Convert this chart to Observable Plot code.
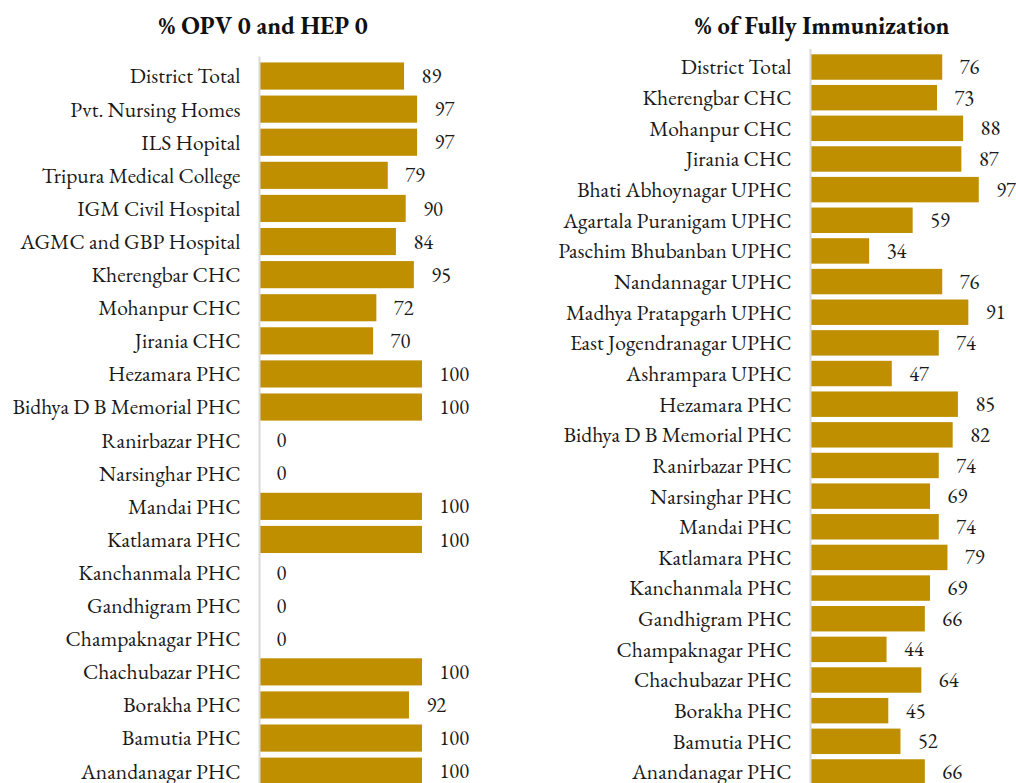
<!DOCTYPE html>
<html>
<head>
<meta charset="utf-8">
<script src="https://cdn.jsdelivr.net/npm/d3@7"></script>
<script src="https://cdn.jsdelivr.net/npm/@observablehq/plot@0.6"></script>
<style>
  body { margin: 0; background: #fff; }
  #wrap { position: relative; width: 1016px; height: 783px; overflow: hidden; }
  .title { position: absolute; top: 9px; font-weight: bold; font-size: 24.5px; color: #111; transform: translateX(-50%); white-space: nowrap; }
  .panel { position: absolute; top: 0; }
</style>
</head>
<body>
<div id="wrap">
  <div class="title" style="left:263px;font-family:'EB Garamond','Liberation Serif',serif">% OPV 0 and HEP 0</div>
  <div class="title" style="left:822px;font-family:'EB Garamond','Liberation Serif',serif">% of Fully Immunization</div>
  <div class="panel" id="p1" style="left:0px"></div>
  <div class="panel" id="p2" style="left:540px"></div>
</div>
<script>
const leftNames = ["District Total","Pvt. Nursing Homes","ILS Hopital","Tripura Medical College","IGM Civil Hospital","AGMC and GBP Hospital","Kherengbar CHC","Mohanpur CHC","Jirania CHC","Hezamara PHC","Bidhya D B Memorial PHC","Ranirbazar PHC","Narsinghar PHC","Mandai PHC","Katlamara PHC","Kanchanmala PHC","Gandhigram PHC","Champaknagar PHC","Chachubazar PHC","Borakha PHC","Bamutia PHC","Anandanagar PHC"];
const leftValues = [89,97,97,79,90,84,95,72,70,100,100,0,0,100,100,0,0,0,100,92,100,100];

const rightNames = ["District Total","Kherengbar CHC","Mohanpur CHC","Jirania CHC","Bhati Abhoynagar UPHC","Agartala Puranigam UPHC","Paschim Bhubanban UPHC","Nandannagar UPHC","Madhya Pratapgarh UPHC","East Jogendranagar UPHC","Ashrampara UPHC","Hezamara PHC","Bidhya D B Memorial PHC","Ranirbazar PHC","Narsinghar PHC","Mandai PHC","Katlamara PHC","Kanchanmala PHC","Gandhigram PHC","Champaknagar PHC","Chachubazar PHC","Borakha PHC","Bamutia PHC","Anandanagar PHC"];
const rightValues = [76,73,88,87,97,59,34,76,91,74,47,85,82,74,69,74,79,69,66,44,64,45,52,66];

const barColor = "#BF8F00";
const font = "'EB Garamond', 'Liberation Serif', serif";

function makeChart(names, values, opts) {
  const data = names.map((n, i) => ({name: n, value: values[i]}));
  return Plot.plot({
    width: opts.width,
    height: opts.height,
    marginLeft: opts.marginLeft,
    marginRight: opts.marginRight,
    marginTop: opts.marginTop,
    marginBottom: opts.marginBottom,
    style: {fontFamily: font, fontSize: "21.5px", color: "#1a1a1a", overflow: "visible", background: "transparent"},
    x: {domain: [0, 100], axis: null},
    y: {domain: names, padding: opts.padding, round: false, label: null},
    marks: [
      Plot.barX(data, {x: "value", y: "name", fill: barColor}),
      Plot.ruleX([0], {stroke: "#d9d9d9", strokeWidth: 2}),
      Plot.axisY({tickSize: 0, tickPadding: 19, fontSize: 21.5, fontFamily: font, label: null}),
      Plot.text(data, {x: "value", y: "name", text: d => String(d.value), textAnchor: "start", dx: 17, fontSize: 20.5, fontFamily: font, fill: "#1a1a1a"})
    ]
  });
}

document.getElementById("p1").append(makeChart(leftNames, leftValues, {
  width: 540, height: 800, marginLeft: 259, marginRight: 118, marginTop: 56.5, marginBottom: 9.3, padding: 0.18
}));
document.getElementById("p2").append(makeChart(rightNames, rightValues, {
  width: 476, height: 800, marginLeft: 270, marginRight: 32, marginTop: 49.1, marginBottom: 10.1, padding: 0.17
}));
</script>
</body>
</html>
